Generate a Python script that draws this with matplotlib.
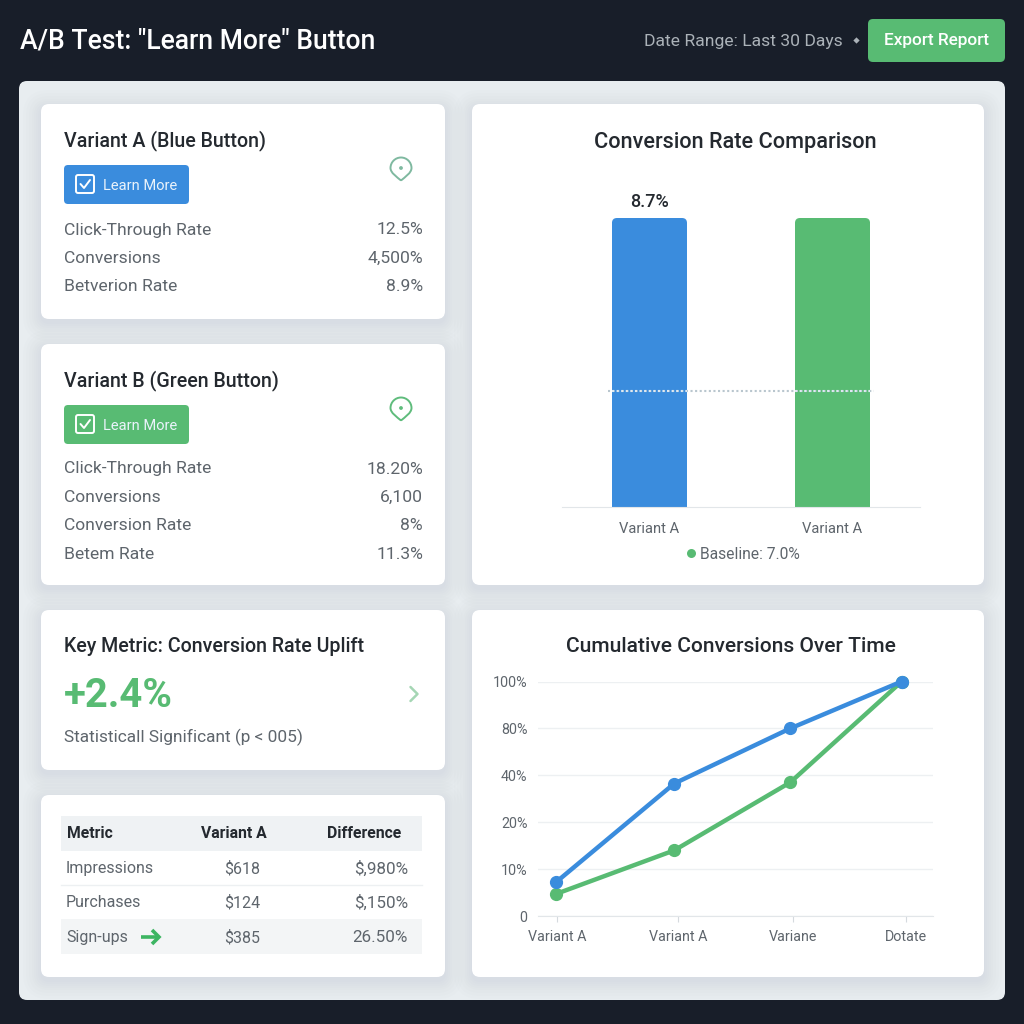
import numpy as np
import matplotlib
matplotlib.use("Agg")
import matplotlib.pyplot as plt
from matplotlib.patches import FancyBboxPatch, Circle, PathPatch, Rectangle
from matplotlib.path import Path
from matplotlib.transforms import IdentityTransform

plt.rcParams["font.family"] = ["Roboto", "DejaVu Sans"]

DARK = "#181E29"
PANEL = "#E8EDF0"
BLUE = "#3A8CDD"
GREEN = "#58BB73"
INK = "#24292F"
GREY = "#5E656C"

variant_a_rows = ["Click-Through Rate", "Conversions", "Betverion Rate"]
variant_a_values = ["12.5%", "4,500%", "8.9%"]
variant_b_rows = ["Click-Through Rate", "Conversions", "Conversion Rate", "Betem Rate"]
variant_b_values = ["18.20%", "6,100", "8%", "11.3%"]

table_header = ["Metric", "Variant A", "Difference"]
table_metrics = ["Impressions", "Purchases", "Sign-ups"]
table_variant_a = ["$618", "$124", "$385"]
table_difference = ["$,980%", "$,150%", "26.50%"]

bar_labels = ["Variant A", "Variant A"]
bar_values = [8.7, 8.7]
bar_value_text = ["8.7%", ""]
baseline_value = 7.0

line_labels = ["Variant A", "Variant A", "Variane", "Dotate"]
line_steps = [0, 1.02, 2.02, 2.98]
line_blue = [7.2, 36.5, 80, 100]
line_green = [4.7, 14, 37, 100]
line_ticks = [0, 10, 20, 40, 80, 100]
line_tick_labels = ["0", "10%", "20%", "40%", "80%", "100%"]


def px(size):
    # sizes below are worked out in pixels, text wants points
    return size * 72 / 100


def label(ax, x, y, s, **kw):
    # va=center sits a little high for mixed case text
    kw.setdefault("va", "center")
    kw.setdefault("zorder", 5)
    return ax.text(x, y + 1.5, s, **kw)


def rounded(ax, x0, y0, x1, y1, r, color, z=1, **kw):
    box = FancyBboxPatch((x0 + r, y0 + r), x1 - x0 - 2 * r, y1 - y0 - 2 * r,
                         boxstyle="round,pad=%f,rounding_size=%f" % (r, r),
                         fc=color, ec="none", zorder=z, **kw)
    ax.add_patch(box)
    return box


def card(ax, x0, y0, x1, y1):
    # soft shadow built from stacked see-through boxes
    for grow in [18, 15, 12, 9, 7, 5, 3, 1]:
        rounded(ax, x0 - grow, y0 - grow + 4, x1 + grow, y1 + grow + 4, 8 + grow,
                "#8AA3B5", z=2, alpha=0.02)
    rounded(ax, x0, y0, x1, y1, 8, "white", z=3)


def pin(ax, cx, cy, color):
    r = 10.5
    k = 0.55 * r
    top = cy - r
    verts = [(cx, cy + 12.5), (cx - 4, cy + 9), (cx - r, cy + 5), (cx - r, cy),
             (cx - r, cy - k), (cx - k, top), (cx, top),
             (cx + k, top), (cx + r, cy - k), (cx + r, cy),
             (cx + r, cy + 5), (cx + 4, cy + 9), (cx, cy + 12.5)]
    codes = [Path.MOVETO] + [Path.CURVE4] * 12
    ax.add_patch(PathPatch(Path(verts, codes), fc="none", ec=color, lw=1.4, zorder=5))
    ax.add_patch(Circle((cx, cy), 1.9, fc=color, ec="none", zorder=5))


def button(ax, x0, y0, color):
    rounded(ax, x0, y0, x0 + 125, y0 + 39, 4, color, z=4)
    bx, by = x0 + 12, y0 + 10
    box = FancyBboxPatch((bx + 2, by + 2), 14, 14, boxstyle="round,pad=2,rounding_size=2",
                         fc="none", ec="white", lw=1.4, zorder=5)
    ax.add_patch(box)
    ax.plot([bx + 4.5, bx + 8, bx + 14], [by + 9, by + 13, by + 5], color="white",
            lw=1.4, zorder=5, solid_capstyle="round", solid_joinstyle="round")
    label(ax, x0 + 39, y0 + 19, "Learn More", color="#EAF3FB", fontsize=px(14.6), ha="left")


def variant_card(ax, y0, y1, title, rows, values, color, pin_color, rows_top):
    card(ax, 41, y0, 445, y1)
    label(ax, 64, y0 + 35.5, title, color=INK, fontsize=px(19.6), weight="medium")
    button(ax, 64, y0 + 61, color)
    pin(ax, 401, y0 + 64, pin_color)
    for i, (row, val) in enumerate(zip(rows, values)):
        y = rows_top + i * 28.4
        label(ax, 64, y - 0.5, row, color=GREY, fontsize=px(17.5))
        label(ax, 423, y - 0.5, val, color=GREY, fontsize=px(17.5), ha="right")


def sub_axes(fig, x0, y0, x1, y1):
    # pixel box (from the top left) to figure fractions
    return fig.add_axes([x0 / 1024, 1 - y1 / 1024, (x1 - x0) / 1024, (y1 - y0) / 1024])


fig = plt.figure(figsize=(10.24, 10.24), dpi=100, facecolor=DARK)
bg = fig.add_axes([0, 0, 1, 1])
bg.set_xlim(0, 1024)
bg.set_ylim(1024, 0)
bg.axis("off")

# header
label(bg, 20, 39.5, "A/B Test: \"Learn More\" Button", color="white", fontsize=px(26.5),
      weight="medium")
label(bg, 644, 40, "Date Range: Last 30 Days", color="#ABB2B8", fontsize=px(17.5))
bg.plot([856], [40], marker="D", ms=3.2, color="#ABB2B8", mec="none")
rounded(bg, 868, 19, 1005, 62, 5, GREEN, z=2)
label(bg, 936.5, 39.5, "Export Report", color="white", fontsize=px(17.3), weight="medium",
      ha="center")

rounded(bg, 19, 81, 1005, 1000, 8, PANEL, z=1)

# left column
variant_card(bg, 104, 319, "Variant A (Blue Button)", variant_a_rows, variant_a_values,
             BLUE, "#7FB9A0", 229)
variant_card(bg, 344, 585, "Variant B (Green Button)", variant_b_rows, variant_b_values,
             GREEN, "#5FBC7C", 468)

card(bg, 41, 610, 445, 770)
label(bg, 64, 644.5, "Key Metric: Conversion Rate Uplift", color=INK, fontsize=px(19.7),
      weight="medium")
label(bg, 64, 694.5, "+2.4%", color=GREEN, fontsize=px(40), weight="bold")
label(bg, 64, 735.5, "Statisticall Significant (p < 005)", color=GREY, fontsize=px(17.3))
bg.plot([410.5, 417.5, 410.5], [687, 694, 701], color="#A5D6B4", lw=1.8, zorder=5,
        solid_capstyle="round", solid_joinstyle="round")

# table card
card(bg, 41, 795, 445, 977)
bg.add_patch(Rectangle((61, 816), 361, 35, fc="#EFF2F4", ec="none", zorder=4))
bg.add_patch(Rectangle((61, 919), 361, 35, fc="#F3F5F6", ec="none", zorder=4))
bg.plot([61, 422], [884.5, 884.5], color="#EDF0F2", lw=1, zorder=4)
table_rows_y = [867, 901, 936]
label(bg, 67, 832, table_header[0], color=INK, fontsize=px(15.8), weight="bold")
label(bg, 234, 832, table_header[1], color=INK, fontsize=px(15.8), weight="bold", ha="center")
label(bg, 364, 832, table_header[2], color=INK, fontsize=px(15.8), weight="bold", ha="center")
for y, metric, a, diff in zip(table_rows_y, table_metrics, table_variant_a, table_difference):
    label(bg, 66, y, metric, color=GREY, fontsize=px(16))
    label(bg, 242, y, a, color=GREY, fontsize=px(16), ha="center")
    label(bg, 408, y, diff, color=GREY, fontsize=px(17), ha="right")
bg.plot([141, 157], [937, 937], color="#3DB562", lw=2.6, zorder=5, solid_capstyle="butt")
bg.plot([152, 159, 152], [930, 937, 944], color="#3DB562", lw=2.6, zorder=5,
        solid_joinstyle="miter", solid_capstyle="butt")

# bar chart card
card(bg, 472, 104, 984, 585)
label(bg, 735, 141, "Conversion Rate Comparison", color=INK, fontsize=px(21.6), weight="medium",
      ha="center")
bg.add_patch(Circle((691.5, 553.5), 4.5, fc=GREEN, ec="none", zorder=5))
label(bg, 700.5, 553, "Baseline: %.1f%%" % baseline_value, color=GREY, fontsize=px(15.6))

bar_ax = sub_axes(fig, 562, 218, 920, 507)
bar_ax.patch.set_visible(False)
bar_ax.set_xlim(-0.478, 1.478)
# the value axis does not start at zero
bar_ax.set_ylim(5.86, 8.7)
bars = bar_ax.bar(range(2), bar_values, width=0.41, color=[BLUE, GREEN], zorder=2)
fig.canvas.draw()
for bar in bars:
    ext = bar.get_window_extent()
    clip = FancyBboxPatch((ext.x0 + 5, ext.y0 + 5), ext.width - 10, ext.height - 10,
                          boxstyle="round,pad=5,rounding_size=5",
                          transform=IdentityTransform())
    bar.set_clip_path(clip)
# dotted baseline, paler where it runs over the bars
bar_ax.hlines(baseline_value, -0.227, 1.227, color="#B9C6CE", lw=1.5,
              linestyles=(0, (1, 1.2)), zorder=3)
bar_ax.hlines([baseline_value] * 2, [-0.205, 0.795], [0.205, 1.205], color="#DDE9F2", lw=1.5,
              linestyles=(0, (1, 1.2)), zorder=4)
bar_ax.bar_label(bars, labels=bar_value_text, padding=5, fontsize=px(18), color=INK,
                 weight="medium")
for side in ["top", "left", "right"]:
    bar_ax.spines[side].set_visible(False)
bar_ax.spines["bottom"].set_color("#E2E6E9")
bar_ax.set_yticks([])
bar_ax.set_xticks(range(2), bar_labels)
bar_ax.tick_params(axis="x", length=0, pad=11, labelsize=px(14.8), labelcolor=GREY)

# line chart card
card(bg, 472, 610, 984, 977)
label(bg, 731, 645, "Cumulative Conversions Over Time", color=INK, fontsize=px(21), weight="medium",
      ha="center")

line_ax = sub_axes(fig, 538, 681.5, 933, 916)
line_ax.patch.set_visible(False)
# tick values are unevenly spaced but sit at equal distances
tick_rank = np.arange(len(line_ticks))
line_ax.set_yscale("function", functions=(
    lambda v: np.interp(v, line_ticks, tick_rank),
    lambda r: np.interp(r, tick_rank, line_ticks)))
line_ax.set_ylim(0, 100)
line_ax.set_xlim(-0.155, 3.25)
line_ax.set_yticks(line_ticks, line_tick_labels)
line_ax.set_yticks([], minor=True)
line_ax.set_xticks([0.01, 1.05, 2.04, 3.02], line_labels)
line_ax.grid(axis="y", color="#EDF0F2", lw=1)
line_ax.set_axisbelow(True)
line_ax.plot(line_steps, line_green, color=GREEN, lw=3.2, marker="o", ms=8.5, clip_on=False, zorder=3)
line_ax.plot(line_steps, line_blue, color=BLUE, lw=3.2, marker="o", ms=8.5, clip_on=False, zorder=4)
for side in ["top", "left", "right"]:
    line_ax.spines[side].set_visible(False)
line_ax.spines["bottom"].set_color("#E2E6E9")
line_ax.tick_params(axis="y", length=0, pad=7.5, labelsize=px(14.3), labelcolor=GREY)
line_ax.tick_params(axis="x", length=4, width=0.8, color="#D5DADE", pad=6, labelsize=px(14.2), labelcolor=GREY)

fig.savefig("out.png", dpi=100, facecolor=DARK)
